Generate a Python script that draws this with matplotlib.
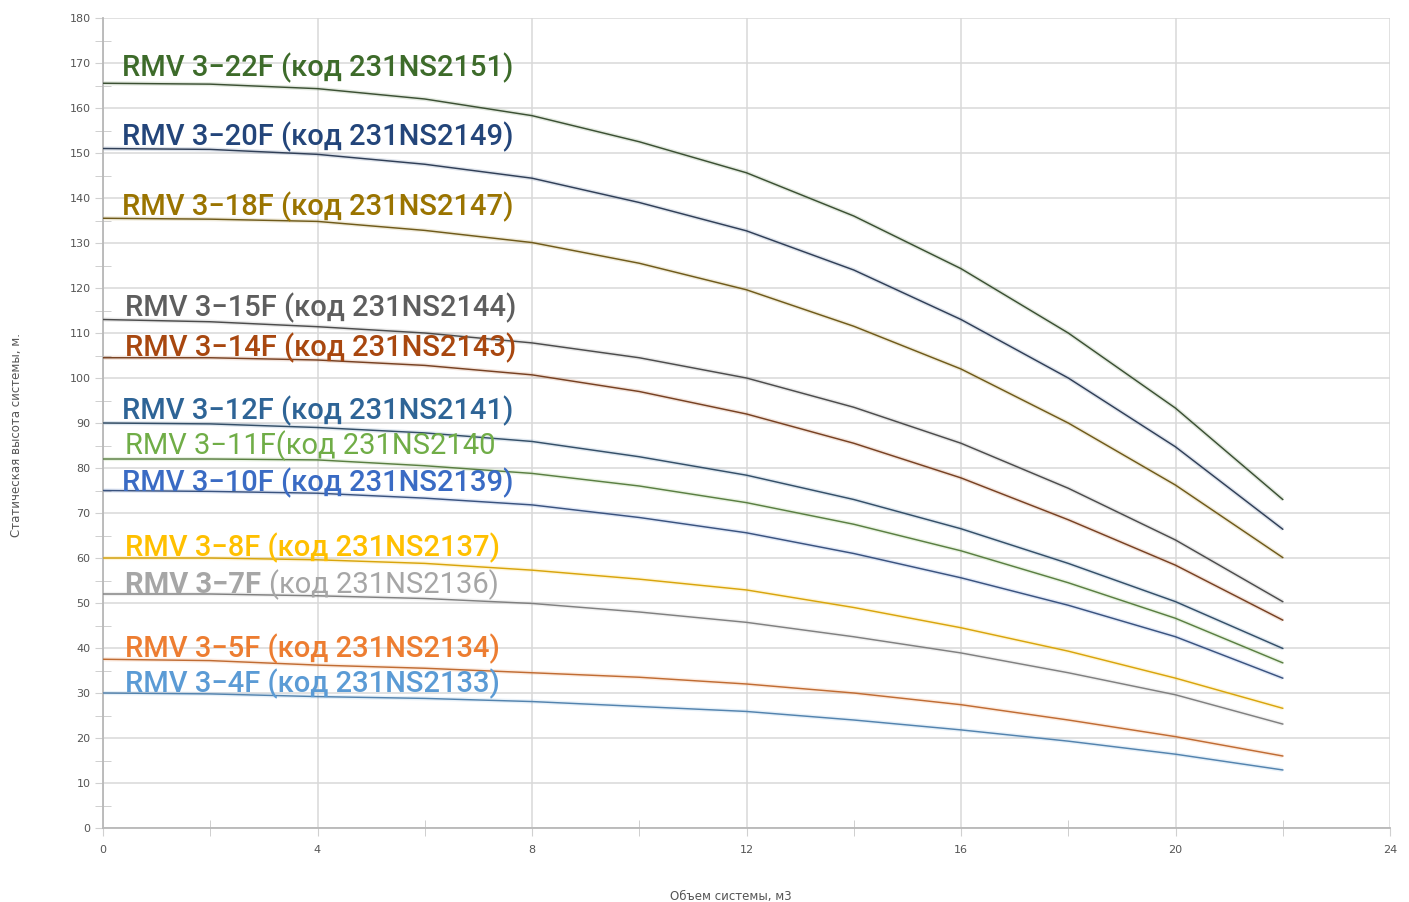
import numpy as np
import matplotlib
matplotlib.use('Agg')
import matplotlib.pyplot as plt
from matplotlib.colors import to_rgb

# flow, m3 (x) and head, m (y)
flow = [0, 2, 4, 6, 8, 10, 12, 14, 16, 18, 20, 22]

head_22f = [165.5, 165.3, 164.3, 162.0, 158.3, 152.5, 145.6, 136.0, 124.3, 110.0, 93.3, 73.0]
head_20f = [151.0, 150.8, 149.7, 147.5, 144.4, 139.0, 132.7, 124.0, 113.0, 100.0, 84.7, 66.4]
head_18f = [135.5, 135.3, 134.8, 132.8, 130.1, 125.5, 119.6, 111.5, 102.0, 90.0, 76.2, 60.1]
head_15f = [113.0, 112.5, 111.4, 110.0, 107.8, 104.5, 100.0, 93.5, 85.5, 75.5, 64.0, 50.3]
head_14f = [104.5, 104.5, 104.0, 102.8, 100.7, 97.0, 92.0, 85.5, 77.8, 68.5, 58.4, 46.2]
head_12f = [90.0, 89.8, 89.0, 87.8, 85.9, 82.5, 78.4, 73.0, 66.5, 58.8, 50.3, 39.9]
head_11f = [82.0, 82.0, 81.8, 80.5, 78.8, 76.0, 72.3, 67.5, 61.6, 54.5, 46.6, 36.7]
head_10f = [75.0, 74.8, 74.4, 73.3, 71.8, 69.0, 65.6, 61.0, 55.6, 49.5, 42.5, 33.3]
head_8f = [60.0, 60.0, 59.6, 58.8, 57.3, 55.3, 52.9, 49.0, 44.5, 39.3, 33.3, 26.6]
head_7f = [52.0, 52.0, 51.6, 51.0, 49.9, 48.0, 45.7, 42.5, 38.9, 34.5, 29.6, 23.1]
head_5f = [37.5, 37.2, 36.2, 35.5, 34.5, 33.5, 32.0, 30.0, 27.4, 24.0, 20.3, 16.0]
head_4f = [30.0, 29.8, 29.2, 28.8, 28.1, 27.0, 25.9, 24.0, 21.8, 19.3, 16.4, 12.9]

models = ["RMV 3\u221222F", "RMV 3\u221220F", "RMV 3\u221218F", "RMV 3\u221215F",
          "RMV 3\u221214F", "RMV 3\u221212F", "RMV 3\u221211F", "RMV 3\u221210F",
          "RMV 3\u22128F", "RMV 3\u22127F", "RMV 3\u22125F", "RMV 3\u22124F"]
codes = ["(код 231NS2151)", "(код 231NS2149)", "(код 231NS2147)", "(код 231NS2144)",
         "(код 231NS2143)", "(код 231NS2141)", "(код 231NS2140", "(код 231NS2139)",
         "(код 231NS2137)", "(код 231NS2136)", "(код 231NS2134)", "(код 231NS2133)"]
heads = [head_22f, head_20f, head_18f, head_15f, head_14f, head_12f,
         head_11f, head_10f, head_8f, head_7f, head_5f, head_4f]

colors = ["#3d6b2a", "#23457a", "#9a7400", "#5e5e5e", "#a8470f", "#2e6496",
          "#70ad47", "#3a6bc4", "#ffc000", "#a6a6a6", "#ed7d31", "#5b9bd5"]
line_mix = [0.45, 0.45, 0.55, 0.5, 0.55, 0.5, 0.6, 0.5, 0.8, 0.65, 0.75, 0.75]

# label anchors (left x, vertical centre)
label_x = [0.35, 0.35, 0.35, 0.41, 0.41, 0.35, 0.41, 0.35, 0.41, 0.41, 0.41, 0.41]
label_y = [169.0, 153.7, 138.1, 115.7, 106.8, 92.6, 85.0, 76.6, 62.3, 54.1, 39.9, 32.1]

fig = plt.figure(figsize=(14.09, 9.02), dpi=100)
ax = fig.add_axes([103 / 1409, 1 - 828 / 902, (1390 - 103) / 1409, (828 - 18) / 902])

dark = np.array(to_rgb("#3a3a3a"))
for h, c, m in zip(heads, colors, line_mix):
    lc = m * np.array(to_rgb(c)) + (1 - m) * dark
    ax.plot(flow, h, color=c, lw=3.0, alpha=0.15, solid_capstyle='butt', zorder=2)
    ax.plot(flow, h, color=lc, lw=1.05, zorder=3)

fs = 21
for i in range(len(models)):
    if i == 9:
        # only the model name is bold on this label
        t = ax.text(label_x[i], label_y[i], models[i] + " ", color=colors[i],
                    fontsize=fs, family="Roboto", va="center", ha="left",
                    fontweight="bold", zorder=5)
        fig.canvas.draw()
        bb = t.get_window_extent().transformed(ax.transData.inverted())
        ax.text(bb.x1, label_y[i], codes[i], color=colors[i], fontsize=fs,
                family="Roboto", va="center", ha="left", zorder=5)
        continue
    if i == 6:
        label = models[i] + codes[i]
        weight = "normal"
    else:
        label = models[i] + " " + codes[i]
        weight = 500
    ax.text(label_x[i], label_y[i], label, color=colors[i], fontsize=fs,
            family="Roboto", va="center", ha="left", fontweight=weight, zorder=5)

ax.set_xlim(0, 24)
ax.set_ylim(0, 180)
ax.set_xticks(np.arange(0, 25, 4))
ax.set_yticks(np.arange(0, 181, 10))
ax.set_xticks(np.arange(0, 25, 2), minor=True)
ax.set_yticks(np.arange(0, 181, 5), minor=True)
ax.grid(which="major", color="#d9d9d9", lw=1.1, zorder=0)
ax.tick_params(which="major", direction="out", length=6, color="#d0d0d0",
               labelsize=8, labelcolor="#555555")
ax.tick_params(which="minor", direction="inout", length=12, color="#c8c8c8")
ax.tick_params(axis="y", which="major", pad=3)
ax.tick_params(axis="x", which="major", pad=6)

for side in ["top", "right"]:
    ax.spines[side].set_visible(False)
for side in ["left", "bottom"]:
    ax.spines[side].set_color("#b8b8b8")
    ax.spines[side].set_linewidth(1.3)

ax.set_xlabel("Объем системы, м3", fontsize=8.5, color="#555555")
ax.xaxis.set_label_coords(0.488, -0.077)
ax.set_ylabel("Статическая высота системы, м.", fontsize=8.5, color="#555555")
ax.yaxis.set_label_coords(-0.062, 0.485)

plt.savefig("out.png", dpi=100)
